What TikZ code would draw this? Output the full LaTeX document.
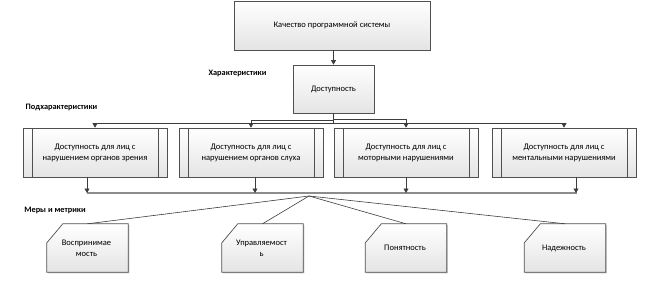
\documentclass[tikz,border=0pt]{standalone}
\usepackage{fontspec}
\setmainfont{Carlito}
\usetikzlibrary{calc,arrows.meta,shadows}
\definecolor{edge}{HTML}{505050}
\definecolor{linec}{HTML}{3C3C3C}
\definecolor{busc}{HTML}{8C8C8C}
\definecolor{shbot}{HTML}{E4E4E4}
\tikzset{
  boxlook/.style={draw=edge, line width=0.7pt, top color=white, bottom color=shbot,
    drop shadow={shadow xshift=1.2pt, shadow yshift=-1.2pt, opacity=0.35, fill=black!60}},
  plainbox/.style={boxlook, rectangle, inner sep=0pt, align=center, font=\fontsize{8.5}{11}\selectfont},
  ghost/.style={rectangle, inner sep=0pt, align=center, font=\fontsize{8.5}{11}\selectfont},
  conn/.style={draw=linec, line width=0.6pt},
  arr/.style={conn, -{Triangle[length=4.5pt,width=5pt]}},
  tag/.style={font=\bfseries\fontsize{8.3}{10}\selectfont, inner sep=0pt},
  bus/.style={draw=busc, line width=1.8pt}
}
\begin{document}
\begin{tikzpicture}[x=1pt,y=-1pt]
\useasboundingbox (0,0) rectangle (657,289);

% top
\node[plainbox, minimum width=196pt, minimum height=49pt] (top) at (332,25.5) {Качество программной системы};
\node[plainbox, minimum width=81pt, minimum height=48pt] (dost) at (333.5,89) {Доступность};

% children
\foreach \n/\x/\t in {c1/95/{Доступность для лиц с\\нарушением органов зрения},
                      c2/251/{Доступность для лиц с\\нарушением органов слуха},
                      c3/406/{Доступность для лиц с\\моторными нарушениями},
                      c4/564/{Доступность для лиц с\\ментальными нарушениями}}{
  \node[plainbox, minimum width=144pt, minimum height=49pt] (\n) at (\x,152.5) {\t};
  \draw[edge, line width=0.7pt] ($(\n.north west)+(9.5,0)$) -- ($(\n.south west)+(9.5,0)$);
  \draw[edge, line width=0.7pt] ($(\n.north east)+(-9.5,0)$) -- ($(\n.south east)+(-9.5,0)$);
}

% metric boxes
\foreach \n/\x/\t in {m1/87.5/{Воспринимае\\мость},
                      m2/262.5/{Управляемост\\ь},
                      m3/406/{Понятность},
                      m4/565/{Надежность}}{
  \node[ghost, minimum width=81pt, minimum height=48pt] (\n) at (\x,248) {};
  \path[boxlook] (\n.south west) -- ($(\n.north west)+(0,19)$) -- ($(\n.north west)+(16,0)$)
     -- (\n.north east) -- (\n.south east) -- cycle;
  \node[ghost] at ($(\n.center)+(-1,0)$) {\t};
}

% labels
\node[tag] (lchar) at (237.5,73) {Характеристики};
\node[tag] (lsub) at (61.5,107) {Подхарактеристики};
\node[tag] (lmer) at (55,210) {Меры и метрики};

% top -> dost
\draw[arr] (top.south -| dost.north) -- (dost.north);

% dost -> children
\coordinate (r1) at (95,123);
\coordinate (r2) at (251,120);
\coordinate (r3) at (406,119.5);
\coordinate (r4) at (564,123.5);
\foreach \k in {1,2,3,4}{
  \draw[arr] (dost.south) |- (r\k) -- (c\k.north);
}

% bus
\coordinate (busL) at (87,193);
\coordinate (busR) at (577,193);
\draw[bus] (busL) -- (busR);
\coordinate (b1) at (87,193);
\coordinate (b2) at (255,193);
\coordinate (b3) at (406,193);
\coordinate (b4) at (576,193);
\foreach \k in {1,2,3,4}{
  \draw[arr] (c\k.south -| b\k) -- (b\k);
}

% fan
\coordinate (hub) at (309,196);
\foreach \k in {1,2,3,4}{
  \draw[conn] (hub) -- (m\k.north);
}
\end{tikzpicture}
\end{document}
